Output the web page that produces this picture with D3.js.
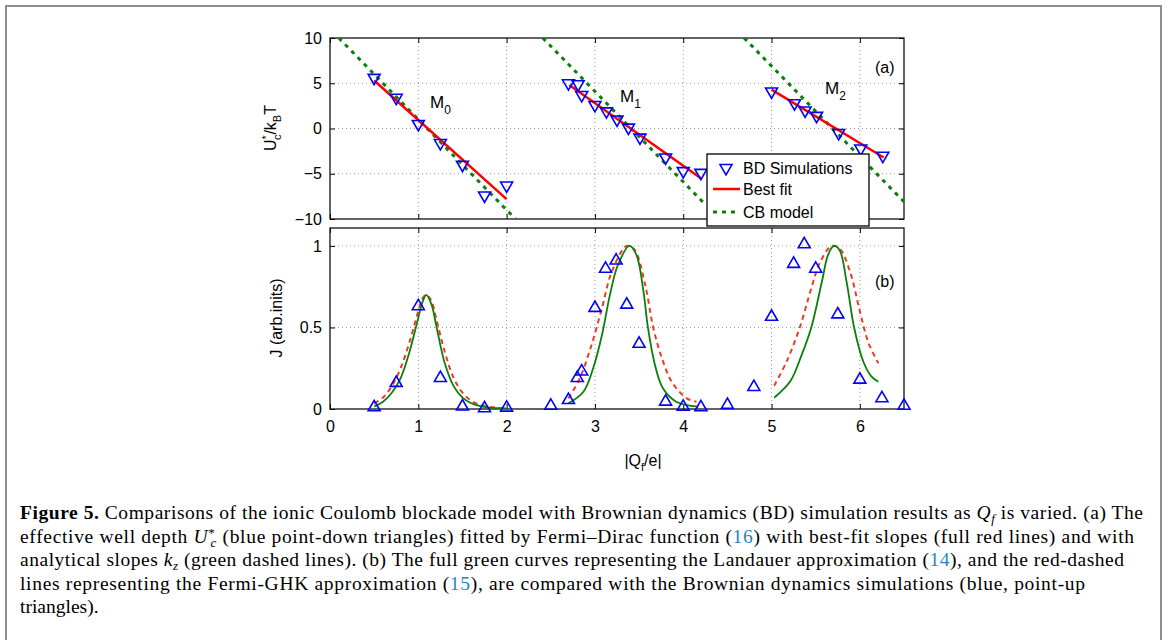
<!DOCTYPE html>
<html lang="en">
<head>
<meta charset="utf-8">
<title>Figure 5</title>
<script src="https://d3js.org/d3.v7.min.js"></script>
<style>
body { margin: 0; background: #fff; }
svg text { font-family: "Liberation Sans", Arial, sans-serif; fill: #000; }
</style>
</head>
<body>
<svg id="fig" width="1168" height="640"></svg>
<script>

// ---- data ----
var qTicks = [0, 1, 2, 3, 4, 5, 6];
var uTicks = [-10, -5, 0, 5, 10];
var jTicks = [0, 0.5, 1];

// (a) BD simulations, U*/kT
var m0Q = [0.5, 0.75, 1.0, 1.25, 1.5, 1.75, 2.0];
var m0U = [5.6, 3.4, 0.5, -1.6, -4.0, -7.4, -6.3];
var m1Q = [2.7, 2.81, 2.85, 3.0, 3.13, 3.25, 3.38, 3.51, 3.8, 4.0, 4.2];
var m1U = [5.0, 4.9, 3.7, 2.6, 1.9, 1.0, 0.1, -1.0, -3.2, -4.7, -4.9];
var m2Q = [5.0, 5.26, 5.38, 5.51, 5.76, 6.01, 6.26];
var m2U = [4.1, 2.8, 2.0, 1.4, -0.5, -2.2, -3.0];

// best fit lines (end points)
var fit0Q = [0.5, 2.0],   fit0U = [5.3, -7.8];
var fit1Q = [2.71, 4.2],  fit1U = [4.8, -5.5];
var fit2Q = [5.0, 6.27],  fit2U = [4.3, -3.2];

// CB model lines (end points)
var cb0Q = [0.1, 2.1],   cb0U = [10, -10];
var cb1Q = [2.41, 4.23], cb1U = [10, -8.2];
var cb2Q = [4.69, 6.5],  cb2U = [10, -8.1];

// (b) BD simulations, J
var jQ = [0.5, 0.75, 1.0, 1.25, 1.5, 1.75, 2.0,
          2.5, 2.7, 2.8, 2.85, 3.0, 3.12, 3.24, 3.36, 3.5, 3.8, 4.0, 4.2,
          4.5, 4.8, 5.0, 5.25, 5.37, 5.5, 5.75, 6.0, 6.25, 6.5];
var jVal = [0.01, 0.16, 0.63, 0.19, 0.015, 0.004, 0.008,
            0.02, 0.055, 0.19, 0.23, 0.62, 0.86, 0.91, 0.64, 0.40, 0.045, 0.014, 0.01,
            0.025, 0.135, 0.565, 0.89, 1.01, 0.86, 0.58, 0.18, 0.066, 0.02];

// Landauer approximation (green full)
var land0Q = [0.5, 0.6, 0.7, 0.8, 0.9, 1.0, 1.05, 1.09, 1.15, 1.2, 1.3, 1.4, 1.5, 1.6, 1.7, 1.8, 1.9, 2.0];
var land0J = [0.015, 0.045, 0.10, 0.19, 0.35, 0.56, 0.66, 0.70, 0.64, 0.52, 0.28, 0.14, 0.07, 0.035, 0.018, 0.009, 0.005, 0.003];
var land1Q = [2.7, 2.87, 2.98, 3.08, 3.17, 3.26, 3.39, 3.47, 3.55, 3.6, 3.68, 3.77, 3.92, 4.17];
var land1J = [0.035, 0.106, 0.25, 0.454, 0.70, 0.883, 1.0, 0.945, 0.72, 0.50, 0.27, 0.127, 0.045, 0.014];
var land2Q = [5.03, 5.21, 5.34, 5.45, 5.57, 5.64, 5.705, 5.77, 5.85, 5.935, 6.04, 6.13, 6.21];
var land2J = [0.069, 0.168, 0.33, 0.50, 0.78, 0.945, 1.0, 0.975, 0.78, 0.50, 0.29, 0.20, 0.167];

// Fermi-GHK approximation (red dashed)
var ghk0Q = [0.5, 0.6, 0.7, 0.8, 0.9, 1.0, 1.05, 1.09, 1.15, 1.2, 1.3, 1.4, 1.5, 1.6, 1.7, 1.8, 1.9, 2.0];
var ghk0J = [0.035, 0.07, 0.14, 0.25, 0.41, 0.60, 0.68, 0.70, 0.66, 0.56, 0.35, 0.19, 0.10, 0.05, 0.025, 0.013, 0.007, 0.004];
var ghk1Q = [2.7, 2.83, 2.96, 3.08, 3.19, 3.36, 3.45, 3.57, 3.66, 3.76, 3.87, 4.04, 4.15];
var ghk1J = [0.065, 0.19, 0.39, 0.62, 0.84, 1.0, 0.975, 0.76, 0.50, 0.31, 0.167, 0.065, 0.045];
var ghk2Q = [5.03, 5.17, 5.32, 5.45, 5.55, 5.68, 5.77, 5.89, 6.0, 6.095, 6.21];
var ghk2J = [0.143, 0.29, 0.50, 0.74, 0.90, 1.0, 0.985, 0.84, 0.60, 0.41, 0.28];

function pairs(a, b) { return a.map(function(v, i) { return [v, b[i]]; }); }

var svg = d3.select("#fig");

// page frame
svg.append("path")
  .attr("d", "M6,660 L6,6 L1161,6 L1161,660")
  .attr("fill", "none")
  .attr("stroke", "#8f8f8f")
  .attr("stroke-width", 2);

var x = d3.scaleLinear().domain([0, 6.5]).range([330, 904]);
var yTop = d3.scaleLinear().domain([-10, 10]).range([219, 38]);
var yBot = d3.scaleLinear().domain([0, 1.11]).range([409, 228]);

function panel(y, yt, clipId, showX) {
  var x0 = x.range()[0], x1 = x.range()[1];
  var y0 = y.range()[1], y1 = y.range()[0];
  var g = svg.append("g");

  svg.append("clipPath").attr("id", clipId)
    .append("rect").attr("x", x0).attr("y", y0).attr("width", x1 - x0).attr("height", y1 - y0);

  // dotted grid
  g.selectAll(".vg").data(qTicks.filter(function(d) { return d > 0; }))
    .enter().append("line")
    .attr("x1", function(d) { return x(d); }).attr("x2", function(d) { return x(d); })
    .attr("y1", y0).attr("y2", y1)
    .attr("stroke", "#9a9a9a").attr("stroke-width", 1).attr("stroke-dasharray", "1,3");
  g.selectAll(".hg").data(yt.filter(function(d) { return y(d) > y0 + 1 && y(d) < y1 - 1; }))
    .enter().append("line")
    .attr("x1", x0).attr("x2", x1)
    .attr("y1", function(d) { return y(d); }).attr("y2", function(d) { return y(d); })
    .attr("stroke", "#9a9a9a").attr("stroke-width", 1).attr("stroke-dasharray", "1,3");

  var ax = [
    g.append("g").attr("transform", "translate(0," + y1 + ")")
      .call(d3.axisBottom(x).tickValues(qTicks).tickSizeInner(-5).tickSizeOuter(0).tickPadding(12)
        .tickFormat(showX ? d3.format("d") : function() { return ""; })),
    g.append("g").attr("transform", "translate(0," + y0 + ")")
      .call(d3.axisTop(x).tickValues(qTicks).tickSizeInner(-5).tickSizeOuter(0).tickFormat(function() { return ""; })),
    g.append("g").attr("transform", "translate(" + x0 + ",0)")
      .call(d3.axisLeft(y).tickValues(yt).tickSizeInner(-5).tickSizeOuter(0).tickPadding(8)
        .tickFormat(function(d) { return String(d).replace("-", "\u2212"); })),
    g.append("g").attr("transform", "translate(" + x1 + ",0)")
      .call(d3.axisRight(y).tickValues(yt).tickSizeInner(-5).tickSizeOuter(0).tickFormat(function() { return ""; }))
  ];
  ax.forEach(function(a) {
    a.select(".domain").remove();
    a.selectAll(".tick line").attr("stroke", "#000");
    a.selectAll("text").style("font-size", "16px").attr("fill", "#000");
  });

  g.append("rect")
    .attr("x", x0).attr("y", y0).attr("width", x1 - x0).attr("height", y1 - y0)
    .attr("fill", "none").attr("stroke", "#111").attr("stroke-width", 1.3);

  return svg.append("g").attr("clip-path", "url(#" + clipId + ")");
}

// ---------- panel (a) ----------
var pa = panel(yTop, uTicks, "clipA", false);
var lineA = d3.line().x(function(d) { return x(d[0]); }).y(function(d) { return yTop(d[1]); });

[[cb0Q, cb0U], [cb1Q, cb1U], [cb2Q, cb2U]].forEach(function(s) {
  pa.append("path").attr("d", lineA(pairs(s[0], s[1])))
    .attr("fill", "none").attr("stroke", "#0a800a").attr("stroke-width", 3).attr("stroke-dasharray", "4,5");
});
[[fit0Q, fit0U], [fit1Q, fit1U], [fit2Q, fit2U]].forEach(function(s) {
  pa.append("path").attr("d", lineA(pairs(s[0], s[1])))
    .attr("fill", "none").attr("stroke", "#ff0000").attr("stroke-width", 2.5);
});

var triDown = d3.symbol().type(d3.symbolTriangle).size(62);
var bdA = pairs(m0Q, m0U).concat(pairs(m1Q, m1U), pairs(m2Q, m2U));
svg.append("g").selectAll("path").data(bdA).enter().append("path")
  .attr("d", triDown())
  .attr("transform", function(d) { return "translate(" + x(d[0]) + "," + yTop(d[1]) + ") rotate(180)"; })
  .attr("fill", "none").attr("stroke", "#0000ff").attr("stroke-width", 1.6);

// labels M0 M1 M2, (a)
function subLabel(px, py, main, sub) {
  var t = svg.append("text").attr("x", px).attr("y", py).style("font-size", "17px");
  t.append("tspan").text(main);
  t.append("tspan").attr("dy", 6).style("font-size", "12px").text(sub);
}
subLabel(430, 108, "M", "0");
subLabel(620, 102, "M", "1");
subLabel(825, 94, "M", "2");
svg.append("text").attr("x", 875).attr("y", 73).style("font-size", "16px").text("(a)");

// legend
var lg = svg.append("g");
lg.append("rect").attr("x", 707).attr("y", 154).attr("width", 162).attr("height", 72)
  .attr("fill", "#fff").attr("stroke", "#000").attr("stroke-width", 1.3);
lg.append("path").attr("d", triDown())
  .attr("transform", "translate(726,168) rotate(180)")
  .attr("fill", "none").attr("stroke", "#0000ff").attr("stroke-width", 1.6);
lg.append("line").attr("x1", 713).attr("x2", 740).attr("y1", 189).attr("y2", 189)
  .attr("stroke", "#ff0000").attr("stroke-width", 2.5);
lg.append("line").attr("x1", 713).attr("x2", 740).attr("y1", 212).attr("y2", 212)
  .attr("stroke", "#0a800a").attr("stroke-width", 3).attr("stroke-dasharray", "4,5");
[["BD Simulations", 174], ["Best fit", 195], ["CB model", 218]].forEach(function(d) {
  lg.append("text").attr("x", 743).attr("y", d[1]).style("font-size", "16px").text(d[0]);
});

// y label (a)
var ul = svg.append("text")
  .attr("transform", "translate(276,128) rotate(-90)")
  .attr("text-anchor", "middle").style("font-size", "16px");
ul.append("tspan").text("U");
ul.append("tspan").attr("dy", -6).style("font-size", "11px").text("*");
ul.append("tspan").attr("dx", -5).attr("dy", 11).style("font-size", "11px").text("c");
ul.append("tspan").attr("dy", -5).text("/k");
ul.append("tspan").attr("dy", 5).style("font-size", "11px").text("B");
ul.append("tspan").attr("dy", -5).text("T");

// ---------- panel (b) ----------
var pb = panel(yBot, jTicks, "clipB", true);
var lineB = d3.line().curve(d3.curveCatmullRom)
  .x(function(d) { return x(d[0]); }).y(function(d) { return yBot(d[1]); });

[[ghk0Q, ghk0J], [ghk1Q, ghk1J], [ghk2Q, ghk2J]].forEach(function(s) {
  pb.append("path").attr("d", lineB(pairs(s[0], s[1])))
    .attr("fill", "none").attr("stroke", "#ee3b24").attr("stroke-width", 2).attr("stroke-dasharray", "5,4");
});
[[land0Q, land0J], [land1Q, land1J], [land2Q, land2J]].forEach(function(s) {
  pb.append("path").attr("d", lineB(pairs(s[0], s[1])))
    .attr("fill", "none").attr("stroke", "#0a800a").attr("stroke-width", 1.8);
});

var triUp = d3.symbol().type(d3.symbolTriangle).size(62);
svg.append("g").selectAll("path").data(pairs(jQ, jVal)).enter().append("path")
  .attr("d", triUp())
  .attr("transform", function(d) { return "translate(" + x(d[0]) + "," + yBot(d[1]) + ")"; })
  .attr("fill", "none").attr("stroke", "#0000ff").attr("stroke-width", 1.6);

svg.append("text").attr("x", 875).attr("y", 287).style("font-size", "16px").text("(b)");

svg.append("text")
  .attr("transform", "translate(282,318) rotate(-90)")
  .attr("text-anchor", "middle").style("font-size", "16px").text("J (arb.inits)");

var xl = svg.append("text").attr("x", 643).attr("y", 466).attr("text-anchor", "middle").style("font-size", "16px");
xl.append("tspan").text("|Q");
xl.append("tspan").attr("dy", 5).style("font-size", "11px").text("f");
xl.append("tspan").attr("dy", -5).text("/e|");

// ---------- caption ----------
var capLines = [
  { y: 519, len: 1123, segs: [
    { t: "Figure 5.", s: "b" },
    { t: " Comparisons of the ionic Coulomb blockade model with Brownian dynamics (BD) simulation results as " },
    { t: "Q", s: "i" }, { t: "f", s: "sub" },
    { t: " is varied. (a) The" } ] },
  { y: 543, len: 1114, segs: [
    { t: "effective well depth " },
    { t: "U", s: "i" }, { t: "*", s: "sup" }, { t: "c", s: "sub", dx: -5 },
    { t: " (blue point-down triangles) fitted by Fermi\u2013Dirac function (" },
    { t: "16", s: "ref" },
    { t: ") with best-fit slopes (full red lines) and with" } ] },
  { y: 566, len: 1104, segs: [
    { t: "analytical slopes " },
    { t: "k", s: "i" }, { t: "z", s: "sub" },
    { t: " (green dashed lines). (b) The full green curves representing the Landauer approximation (" },
    { t: "14", s: "ref" },
    { t: "), and the red-dashed" } ] },
  { y: 590, len: 1065, segs: [
    { t: "lines representing the Fermi-GHK approximation (" },
    { t: "15", s: "ref" },
    { t: "), are compared with the Brownian dynamics simulations (blue, point-up" } ] },
  { y: 613, len: 0, segs: [ { t: "triangles)." } ] }
];

capLines.forEach(function(line) {
  var t = svg.append("text").attr("x", 20).attr("y", line.y)
    .style("font-family", "'Liberation Serif', 'Times New Roman', serif")
    .style("font-size", "19.5px").attr("fill", "#1a1a1a");
  if (line.len) t.attr("textLength", line.len).attr("lengthAdjust", "spacing");
  var shift = 0;
  line.segs.forEach(function(sg) {
    var target = sg.s === "sub" ? 4 : (sg.s === "sup" ? -6 : 0);
    var sp = t.append("tspan").text(sg.t);
    if (target !== shift) sp.attr("dy", target - shift);
    shift = target;
    if (sg.dx) sp.attr("dx", sg.dx);
    if (sg.s === "b") sp.style("font-weight", "bold");
    if (sg.s === "i" || sg.s === "sub") sp.style("font-style", "italic");
    if (sg.s === "sub" || sg.s === "sup") sp.style("font-size", "13px");
    if (sg.s === "ref") sp.attr("fill", "#1f86c6");
  });
});

</script>
</body>
</html>
